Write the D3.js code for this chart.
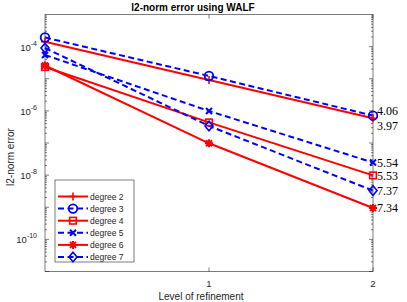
<!DOCTYPE html>
<html><head><meta charset="utf-8">
<script src="https://cdn.jsdelivr.net/npm/d3@7"></script>
<style>body{margin:0;background:#fff}svg{display:block}</style>
</head><body>
<svg id="c" width="407" height="302"></svg>
<script>
// ---- data ----
const levels = [0, 1, 2];
const seriesNames = ["degree 2","degree 3","degree 4","degree 5","degree 6","degree 7"];
const degree2 = [1.42e-4, 9.1e-6, 5.9e-7];
const degree3 = [1.92e-4, 1.22e-5, 7.1e-7];
const degree4 = [2.32e-5, 4.37e-7, 9.8e-9];
const degree5 = [5.5e-5, 9.9e-7, 2.47e-8];
const degree6 = [2.58e-5, 9.8e-8, 9.5e-10];
const degree7 = [9.06e-5, 3.4e-7, 3.3e-9];
const rateLabels = ["3.97","4.06","5.53","5.54","7.34","7.37"];
const xTicks = [1, 2];
const yTickExps = [-4, -6, -8, -10];

const values = [degree2, degree3, degree4, degree5, degree6, degree7];
const colors = ["#ff0000","#0000ff","#ff0000","#0000ff","#ff0000","#0000ff"];
const dashed = [false,true,false,true,false,true];
const markers = ["plus","circle","square","x","star","diamond"];
const labelDy = [7, -5, 0, 0, 0, 0];

const svg = d3.select("#c");
const L = 45, R = 373, T = 14.5, B = 271.5;
const x = d3.scaleLinear().domain([0, 2]).range([L, R]);
const y = d3.scaleLog().domain([1e-11, 1e-3]).range([B, T]);
const axCol = "#262626";

// minor/major ticks
const g = svg.append("g");
for (let e = -11; e < -3; e++) {
  for (let m = 1; m <= 9; m++) {
    const v = m * Math.pow(10, e);
    const yy = y(v);
    const len = m === 1 ? 4 : 2;
    g.append("line").attr("x1", L).attr("x2", L + len).attr("y1", yy).attr("y2", yy)
      .attr("stroke", axCol).attr("stroke-width", 0.6);
    g.append("line").attr("x1", R).attr("x2", R - len).attr("y1", yy).attr("y2", yy)
      .attr("stroke", axCol).attr("stroke-width", 0.6);
  }
}
xTicks.forEach(t => {
  g.append("line").attr("x1", x(t)).attr("x2", x(t)).attr("y1", B).attr("y2", B - 4)
    .attr("stroke", axCol).attr("stroke-width", 0.6);
  g.append("line").attr("x1", x(t)).attr("x2", x(t)).attr("y1", T).attr("y2", T + 4)
    .attr("stroke", axCol).attr("stroke-width", 0.6);
  svg.append("text").attr("x", x(t)).attr("y", B + 15).attr("text-anchor", "middle")
    .attr("font-family", "Liberation Sans, Arial, sans-serif").attr("font-size", 9.5)
    .attr("fill", axCol).text(t);
});
yTickExps.forEach(e => {
  const yy = y(Math.pow(10, e));
  const t = svg.append("text").attr("x", 37).attr("y", yy + 4).attr("text-anchor", "end")
    .attr("font-family", "Liberation Sans, Arial, sans-serif").attr("font-size", 9.5)
    .attr("fill", axCol);
  t.append("tspan").text("10");
  t.append("tspan").attr("dy", -5).attr("font-size", 7).text("-" + (-e));
});
svg.append("rect").attr("x", L).attr("y", T).attr("width", R - L).attr("height", B - T)
  .attr("fill", "none").attr("stroke", axCol).attr("stroke-width", 0.6);

// title & labels
svg.append("text").attr("x", 193).attr("y", 10.5).attr("text-anchor", "middle")
  .attr("font-family", "Liberation Sans, Arial, sans-serif").attr("font-weight", "bold")
  .attr("font-size", 10).attr("fill", "#000").text("l2-norm error using WALF");
svg.append("text").attr("x", 201).attr("y", 300).attr("text-anchor", "middle")
  .attr("font-family", "Liberation Sans, Arial, sans-serif").attr("font-size", 10)
  .attr("fill", axCol).text("Level of refinement");
svg.append("text").attr("transform", "translate(14,157) rotate(-90)").attr("text-anchor", "middle")
  .attr("font-family", "Liberation Sans, Arial, sans-serif").attr("font-size", 10)
  .attr("fill", axCol).text("l2-norm error");

function drawMarker(sel, type, cx, cy, col) {
  const gm = sel.append("g").attr("transform", `translate(${cx},${cy})`)
    .attr("stroke", col).attr("stroke-width", 1.6).attr("fill", "none");
  if (type === "plus") {
    gm.append("path").attr("d", "M-4,0H4M0,-4V4");
  } else if (type === "circle") {
    gm.append("circle").attr("r", 4.3).attr("stroke-width", 1.8);
  } else if (type === "square") {
    gm.append("rect").attr("x", -3.3).attr("y", -3.3).attr("width", 6.6).attr("height", 6.6);
  } else if (type === "x") {
    gm.append("path").attr("d", "M-3,-3L3,3M-3,3L3,-3").attr("stroke-width", 2);
  } else if (type === "star") {
    gm.append("path").attr("d", "M-4,0H4M0,-4V4M-3,-3L3,3M-3,3L3,-3").attr("stroke-width", 2);
  } else if (type === "diamond") {
    gm.append("path").attr("d", "M0,-4.8L4,0L0,4.8L-4,0Z");
  }
}

// series
const line = d3.line().x((d, i) => x(levels[i])).y(d => y(d));
values.forEach((vals, k) => {
  svg.append("path").attr("d", line(vals)).attr("fill", "none")
    .attr("stroke", colors[k]).attr("stroke-width", 2)
    .attr("stroke-dasharray", dashed[k] ? "6,3.5" : null);
});
values.forEach((vals, k) => {
  vals.forEach((v, i) => drawMarker(svg, markers[k], x(levels[i]), y(v), colors[k]));
  const last = vals[vals.length - 1];
  svg.append("text").attr("x", x(2) + 4).attr("y", y(last) + labelDy[k] + 4.3)
    .attr("font-family", "Liberation Serif, Times New Roman, serif").attr("font-size", 12)
    .attr("fill", "#000").text(rateLabels[k]);
});

// legend
const lg = svg.append("g");
lg.append("rect").attr("x", 55).attr("y", 180).attr("width", 79).attr("height", 82)
  .attr("fill", "#fff").attr("stroke", axCol).attr("stroke-width", 0.6);
seriesNames.forEach((name, k) => {
  const yy = 196.5 + k * 12.1;
  lg.append("line").attr("x1", 58).attr("x2", 88).attr("y1", yy).attr("y2", yy)
    .attr("stroke", colors[k]).attr("stroke-width", 2)
    .attr("stroke-dasharray", dashed[k] ? "6,3.5" : null);
  drawMarker(lg, markers[k], 73, yy, colors[k]);
  lg.append("text").attr("x", 90).attr("y", yy + 3.2)
    .attr("font-family", "Liberation Sans, Arial, sans-serif").attr("font-size", 8.5)
    .attr("fill", axCol).text(name);
});
</script>
</body></html>
